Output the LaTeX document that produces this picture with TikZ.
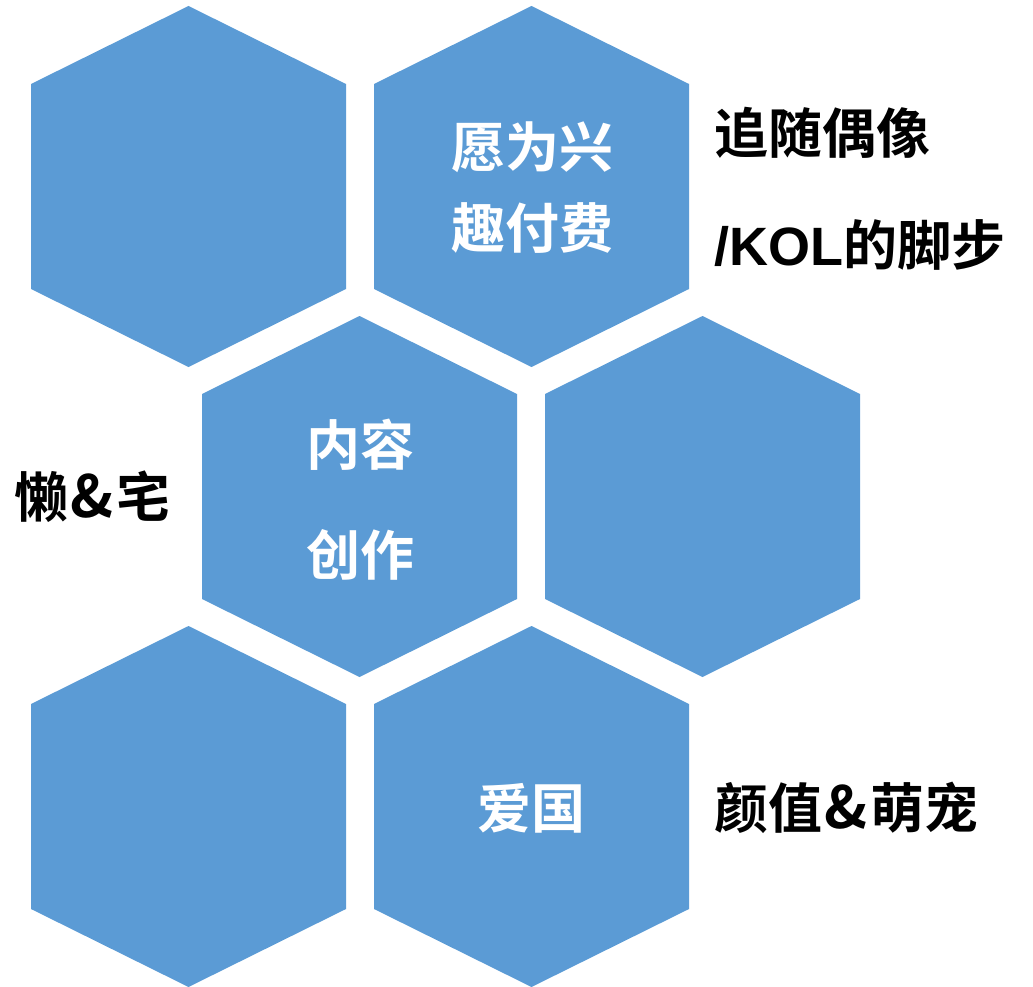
\documentclass[tikz,border=0pt]{standalone}
\usepackage{fontspec}
\setmainfont{Noto Sans CJK SC}[BoldFont={Noto Sans CJK SC Bold}]
\newfontfamily\lat{Liberation Sans}[BoldFont={Liberation Sans Bold}]
\definecolor{hexblue}{HTML}{5B9BD5}
\tikzset{
  intext/.style={text=white, font=\bfseries\fontsize{54}{60}\selectfont, inner sep=0pt, anchor=center},
  outtext/.style={text=black, font=\bfseries\fontsize{54}{60}\selectfont, inner sep=0pt, anchor=west}
}
\newcommand{\hexat}[3]{%
  \fill[hexblue] (#1,#2) ++(0,-180.5) -- ++(157.5,78) -- ++(0,205) -- ++(-157.5,78) -- ++(-157.5,-78) -- ++(0,-205) -- cycle;
  \coordinate (#3) at (#1,#2);
}
\newcommand{\myamp}{\hspace{2pt}{\fontsize{58}{60}\selectfont\&}\hspace{3pt}}
\begin{document}
\begin{tikzpicture}[x=1pt,y=-1pt]
\useasboundingbox (0,0) rectangle (1033,987);
\hexat{188.5}{186.5}{h1}
\hexat{531.5}{186.5}{h2}
\hexat{359.5}{496.5}{h3}
\hexat{702.5}{496.5}{h4}
\hexat{188.5}{806.5}{h5}
\hexat{531.5}{806.5}{h6}
\node[intext] (t1) at (532,147) {愿为兴};
\node[intext] (t2) at (532,228) {趣付费};
\node[intext] (t3) at (360,445) {内容};
\node[intext] (t4) at (360,555) {创作};
\node[intext] (t5) at (531,808) {爱国};
\node[outtext] (o1) at (714,133) {追随偶像};
\node[outtext] (o2) at (714,245) {{\lat/KOL}的脚步};
\node[outtext] (o3) at (14,497) {懒\myamp 宅};
\node[outtext] (o4) at (714,808) {颜值\myamp 萌宠};
\end{tikzpicture}
\end{document}
